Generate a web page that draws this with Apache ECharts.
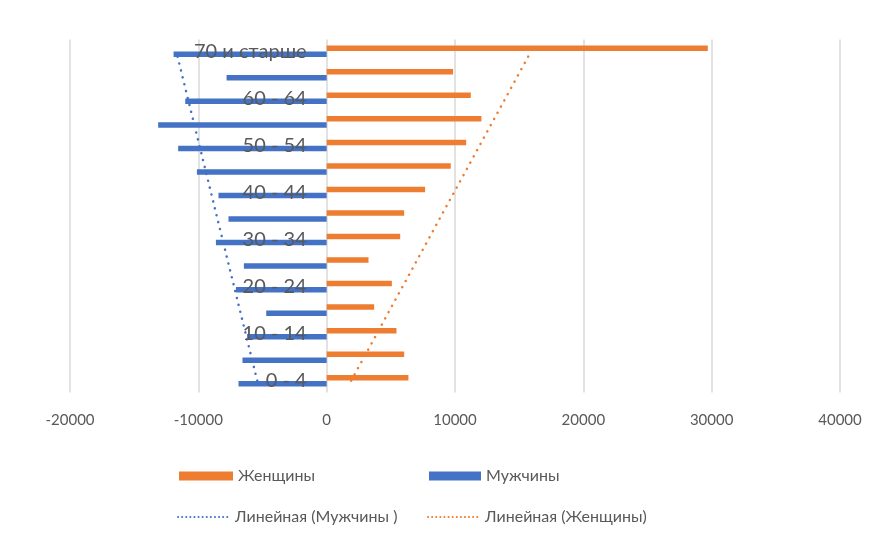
<!DOCTYPE html>
<html>
<head>
<meta charset="utf-8">
<script src="https://cdn.jsdelivr.net/npm/echarts@6/dist/echarts.min.js"></script>
<style>
html,body{margin:0;padding:0;background:#fff;}
#chart{width:882px;height:535px;}
</style>
</head>
<body>
<div id="chart"></div>
<script>
const categories = ["0 - 4","5 - 9","10 - 14","15 - 19","20 - 24","25 - 29","30 - 34","35 - 39","40 - 44","45 - 49","50 - 54","55 - 59","60 - 64","65 - 69","70 и старше"];
const women = [6370, 6040, 5440, 3700, 5080, 3260, 5730, 6040, 7670, 9670, 10870, 12060, 11230, 9850, 29700];
const men = [-6870, -6560, -6200, -4710, -7070, -6450, -8630, -7650, -8430, -10110, -11570, -13130, -11020, -7800, -11930];
// trend line end points (first and last category)
const menTrend = [[-5410, "0 - 4"], [-11720, "70 и старше"]];
const womenTrend = [[1910, "0 - 4"], [15930, "70 и старше"]];
const xTicks = {min: -20000, max: 40000, interval: 10000};

const FONT = 'Lato';
const orange = '#ED7D31', blue = '#4472C4';
const chart = echarts.init(document.getElementById('chart'));
const legendText = {color: '#595959', fontSize: 16, fontFamily: FONT};
const lineLegend = {itemStyle: {opacity: 0}, lineStyle: {width: 2, type: [0.1, 4], cap: 'round'}};
const gridLeft = 70, gridRight = 42;
const plotW = 882 - gridLeft - gridRight;
// shift the category axis onto the x = 0 line of the value axis
const zeroOffset = -plotW * (0 - xTicks.min) / (xTicks.max - xTicks.min);
chart.setOption({
  animation: false,
  textStyle: {fontFamily: FONT},
  grid: {left: gridLeft, right: gridRight, top: 39.5, bottom: 142.5, containLabel: false, outerBoundsMode: 'none'},
  legend: [
    {data: [{name: 'Женщины', icon: 'rect'}], left: 174, top: 463, itemWidth: 54, itemHeight: 9, textStyle: legendText},
    {data: [{name: 'Мужчины', icon: 'rect'}], left: 424, top: 463, itemWidth: 52, itemHeight: 9, textStyle: legendText},
    Object.assign({data: ['Линейная (Мужчины )'], left: 172, top: 504, itemWidth: 52, itemHeight: 9, textStyle: legendText}, lineLegend),
    Object.assign({data: ['Линейная (Женщины)'], left: 422, top: 504, itemWidth: 52, itemHeight: 9, textStyle: legendText}, lineLegend)
  ],
  xAxis: {
    type: 'value', min: xTicks.min, max: xTicks.max, interval: xTicks.interval,
    axisLine: {show: false}, axisTick: {show: false},
    axisLabel: {color: '#595959', fontSize: 15, fontFamily: FONT, margin: 20, formatter: v => String(v)},
    splitLine: {show: true, lineStyle: {color: '#D9D9D9', width: 1.5}}
  },
  yAxis: {
    type: 'category', data: categories, position: 'left', offset: zeroOffset, z: 10,
    axisLine: {show: false, onZero: false}, axisTick: {show: false},
    axisLabel: {interval: 1, color: '#595959', fontSize: 20, fontFamily: FONT, margin: 20},
    splitLine: {show: false}
  },
  series: [
    {name: 'Женщины', type: 'bar', data: women, barWidth: 5.5, barGap: '10%', itemStyle: {color: orange}, z: 1},
    {name: 'Мужчины', type: 'bar', data: men, barWidth: 5.5, barGap: '10%', itemStyle: {color: blue}, z: 1},
    {name: 'Линейная (Мужчины )', type: 'line', data: menTrend, symbol: 'none', color: blue,
     lineStyle: {color: blue, width: 2.5, type: [0.1, 7], cap: 'round'}, z: 3},
    {name: 'Линейная (Женщины)', type: 'line', data: womenTrend, symbol: 'none', color: orange,
     lineStyle: {color: orange, width: 2.5, type: [0.1, 7], cap: 'round'}, z: 3}
  ]
});
</script>
</body>
</html>
